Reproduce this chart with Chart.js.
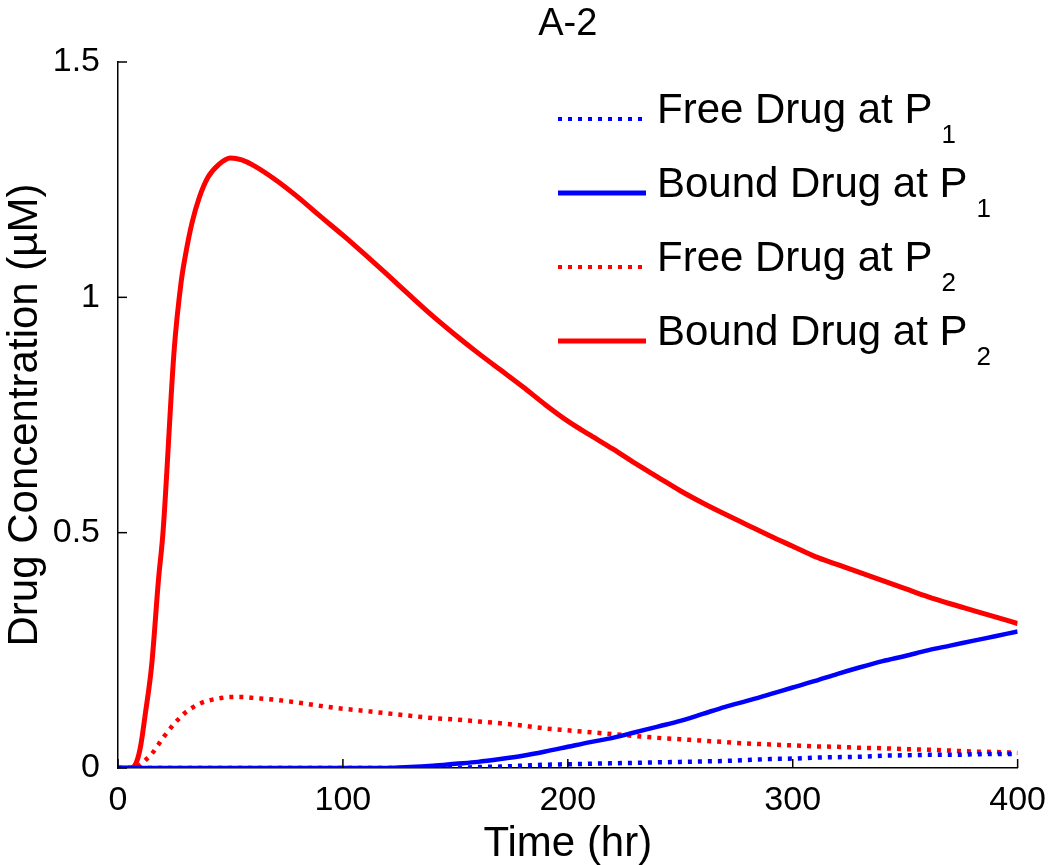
<!DOCTYPE html>
<html>
<head>
<meta charset="utf-8">
<script src="https://cdn.jsdelivr.net/npm/chart.js@4/dist/chart.umd.min.js"></script>
<style>
  body { margin: 0; background: #fff; }
  #wrap { width: 1050px; height: 865px; position: relative; }
</style>
</head>
<body>
<div id="wrap"><canvas id="Mychart"></canvas></div>
<script>
// time (hr)
var times = [0, 5, 8, 10, 12, 15, 18, 20, 25, 28, 30, 33, 36, 40, 45, 50, 55, 60,
  70, 80, 90, 100, 110, 120, 130, 140, 150, 160, 170, 180, 190, 200, 210, 220, 230, 240,
  250, 260, 270, 280, 290, 300, 310, 320, 330, 340, 350, 360, 370, 380, 390, 400];

// drug concentration (uM)
var freeP1 = [0, 0, 0, 0, 0, 0, 0, 0, 0, 0, 0, 0, 0, 0, 0, 0, 0, 0,
  0, 0, 0, 0, 0, 0, 0, 0, 0, 0.002, 0.003, 0.005, 0.007, 0.008, 0.009, 0.010, 0.011, 0.012,
  0.013, 0.014, 0.015, 0.017, 0.019, 0.020, 0.022, 0.023, 0.024, 0.026, 0.027, 0.028, 0.028, 0.029, 0.030, 0.030];
var boundP1 = [0, 0, 0, 0, 0, 0, 0, 0, 0, 0, 0, 0, 0, 0, 0, 0, 0, 0,
  0, 0, 0, 0, 0, 0, 0.002, 0.005, 0.009, 0.013, 0.019, 0.026, 0.035, 0.045, 0.055, 0.064, 0.076, 0.088,
  0.100, 0.115, 0.130, 0.143, 0.157, 0.171, 0.185, 0.200, 0.214, 0.227, 0.238, 0.250, 0.260, 0.270, 0.280, 0.290];
var freeP2 = [0, 0, 0, 0.008, 0.016, 0.030, 0.050, 0.064, 0.094, 0.109, 0.118, 0.128, 0.136, 0.143, 0.148, 0.151, 0.151, 0.149,
  0.145, 0.139, 0.132, 0.126, 0.121, 0.116, 0.111, 0.106, 0.103, 0.099, 0.095, 0.090, 0.084, 0.080, 0.076, 0.072, 0.068, 0.064,
  0.061, 0.058, 0.055, 0.052, 0.050, 0.048, 0.046, 0.045, 0.043, 0.042, 0.040, 0.039, 0.037, 0.035, 0.034, 0.032];
var boundP2 = [0, 0, 0.01, 0.045, 0.11, 0.22, 0.40, 0.50, 0.89, 1.03, 1.09, 1.16, 1.21, 1.255, 1.283, 1.296, 1.292, 1.281,
  1.25, 1.213, 1.172, 1.132, 1.09, 1.047, 1.003, 0.96, 0.92, 0.882, 0.846, 0.81, 0.772, 0.737, 0.707, 0.678, 0.647, 0.618,
  0.589, 0.563, 0.539, 0.516, 0.493, 0.471, 0.449, 0.432, 0.415, 0.398, 0.381, 0.364, 0.349, 0.335, 0.321, 0.307];

var seriesNames = ['Free Drug at P', 'Bound Drug at P', 'Free Drug at P', 'Bound Drug at P'];
var seriesSubs = ['1', '1', '2', '2'];
var xTicks = [0, 100, 200, 300, 400];
var yTicks = [0, 0.5, 1, 1.5];

function pts(ys) {
  return times.map(function (t, i) { return { x: t, y: ys[i] }; });
}

var FONT = '"Liberation Sans", Arial, Helvetica, sans-serif';

// title, inward tick marks and the legend with subscripts
var matlabLook = {
  id: 'matlabLook',
  afterDraw: function (chart) {
    var ctx = chart.ctx;
    var area = chart.chartArea;
    var xs = chart.scales.x, ys = chart.scales.y;
    ctx.save();
    ctx.strokeStyle = '#000';
    ctx.lineWidth = 1.5;
    xTicks.forEach(function (v) {
      var px = xs.getPixelForValue(v);
      ctx.beginPath(); ctx.moveTo(px, area.bottom); ctx.lineTo(px, area.bottom - 9); ctx.stroke();
    });
    yTicks.forEach(function (v) {
      var py = ys.getPixelForValue(v);
      ctx.beginPath(); ctx.moveTo(area.left, py); ctx.lineTo(area.left + 9, py); ctx.stroke();
    });

    ctx.fillStyle = '#000';
    ctx.textAlign = 'center';
    ctx.textBaseline = 'alphabetic';
    ctx.font = '38px ' + FONT;
    ctx.fillText('A-2', (area.left + area.right) / 2, 35);

    // legend
    ctx.textAlign = 'left';
    chart.data.datasets.forEach(function (ds, i) {
      var ly = 119 + i * 74;
      ctx.beginPath();
      ctx.strokeStyle = ds.borderColor;
      ctx.lineWidth = ds.borderDash.length ? 4 : 5;
      ctx.setLineDash(ds.borderDash.length ? [4, 6] : []);
      ctx.moveTo(558, ly); ctx.lineTo(646, ly); ctx.stroke();
      ctx.setLineDash([]);
      ctx.font = '42px ' + FONT;
      ctx.fillText(seriesNames[i], 657, ly + 4);
      var w = ctx.measureText(seriesNames[i]).width;
      ctx.font = '26px ' + FONT;
      ctx.fillText(seriesSubs[i], 657 + w + 9, ly + 24);
    });
    ctx.restore();
  }
};

var ctx = document.getElementById('Mychart');
var chart = new Chart(ctx, {
  type: 'line',
  data: {
    datasets: [
      { label: 'Free Drug at P1', data: pts(freeP1), borderColor: '#0000ff', borderWidth: 4.5, borderDash: [4, 6] },
      { label: 'Bound Drug at P1', data: pts(boundP1), borderColor: '#0000ff', borderWidth: 4.5, borderDash: [] },
      { label: 'Free Drug at P2', data: pts(freeP2), borderColor: '#ff0000', borderWidth: 4.5, borderDash: [4, 6] },
      { label: 'Bound Drug at P2', data: pts(boundP2), borderColor: '#ff0000', borderWidth: 5, borderDash: [] }
    ]
  },
  options: {
    responsive: true,
    maintainAspectRatio: false,
    animation: false,
    layout: { padding: { top: 62, right: 30, left: 0, bottom: 0 } },
    elements: {
      point: { radius: 0 },
      line: { cubicInterpolationMode: 'monotone', fill: false, borderCapStyle: 'butt' }
    },
    plugins: {
      legend: { display: false },
      tooltip: { enabled: false },
      title: { display: false }
    },
    scales: {
      x: {
        type: 'linear',
        min: 0,
        max: 400,
        afterFit: function (s) { s.height = 97; },
        afterBuildTicks: function (s) { s.ticks = xTicks.map(function (v) { return { value: v }; }); },
        grid: { display: false },
        border: { display: true, color: '#000', width: 1.5 },
        ticks: { color: '#000', font: { family: FONT, size: 34 }, padding: 4, maxRotation: 0 },
        title: { display: true, text: 'Time (hr)', color: '#000', font: { family: FONT, size: 42, lineHeight: 1.0 }, padding: { top: 0, bottom: 0 } }
      },
      y: {
        min: 0,
        max: 1.5,
        afterFit: function (s) { s.width = 118; },
        afterBuildTicks: function (s) { s.ticks = yTicks.map(function (v) { return { value: v }; }); },
        grid: { display: false },
        border: { display: true, color: '#000', width: 1.5 },
        ticks: {
          color: '#000', font: { family: FONT, size: 34 }, padding: 10,
          callback: function (v) { return String(v); }
        },
        title: { display: true, text: 'Drug Concentration (\u00b5M)', color: '#000', font: { family: FONT, size: 42 }, padding: 0 }
      }
    }
  },
  plugins: [matlabLook]
});
</script>
</body>
</html>
